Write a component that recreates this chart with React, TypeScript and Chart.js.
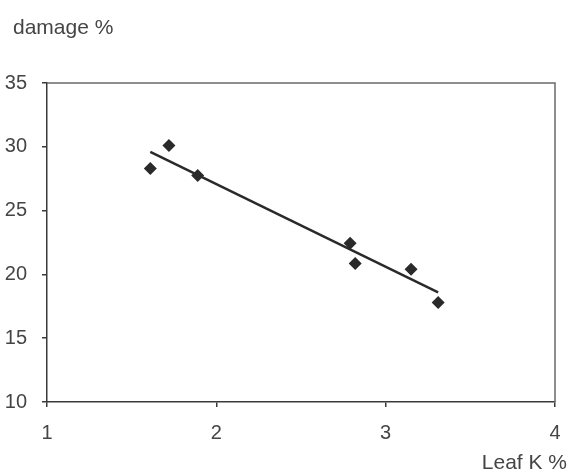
import React, { useEffect, useRef } from "react";
import { Chart, registerables } from "chart.js";

Chart.register(...registerables);

const leafK = [1.61, 1.72, 1.89, 2.79, 2.82, 3.15, 3.31];
const damage = [28.3, 30.1, 27.75, 22.45, 20.85, 20.4, 17.8];
const trendX = [1.61, 3.31];
const trendY = [29.6, 18.6];
const yTitle = "damage %";
const xTitle = "Leaf K %";

const FONT = "'Liberation Sans', Arial, sans-serif";
const TEXT = "#454545";
const INK = "#2a2a2a";

const framePlugin = {
  id: "frameAndTitles",
  afterDraw(chart: any) {
    const { ctx, chartArea } = chart;
    ctx.save();
    ctx.strokeStyle = "#6a6a6a";
    ctx.lineWidth = 1.5;
    ctx.beginPath();
    ctx.moveTo(chartArea.left, chartArea.top);
    ctx.lineTo(chartArea.right, chartArea.top);
    ctx.lineTo(chartArea.right, chartArea.bottom);
    ctx.stroke();
    ctx.fillStyle = TEXT;
    ctx.font = `21px ${FONT}`;
    ctx.textBaseline = "middle";
    ctx.textAlign = "left";
    ctx.fillText(yTitle, 13, 28);
    ctx.textAlign = "right";
    ctx.fillText(xTitle, 567, 463);
    ctx.restore();
  },
};

export default function App() {
  const ref = useRef<HTMLCanvasElement | null>(null);
  useEffect(() => {
    if (!ref.current) return;
    const chart = new Chart(ref.current, {
      type: "scatter",
      data: {
        datasets: [
          {
            label: "points",
            data: leafK.map((x, i) => ({ x, y: damage[i] })),
            pointStyle: "rectRot",
            pointRadius: 6.5,
            pointBackgroundColor: INK,
            pointBorderColor: INK,
            pointBorderWidth: 0,
            showLine: false,
          },
          {
            label: "trend",
            data: trendX.map((x, i) => ({ x, y: trendY[i] })),
            showLine: true,
            pointRadius: 0,
            borderColor: INK,
            borderWidth: 2.5,
          },
        ],
      },
      options: {
        responsive: false,
        animation: false,
        layout: { padding: { left: 0, top: 83, right: 14, bottom: 0 } },
        plugins: { legend: { display: false }, tooltip: { enabled: false } },
        scales: {
          x: {
            type: "linear",
            min: 1,
            max: 4,
            afterFit: (s: any) => {
              s.height = 71;
              s.paddingLeft = 0;
              s.paddingRight = 0;
            },
            ticks: {
              stepSize: 1,
              color: TEXT,
              font: { family: FONT, size: 20 },
              padding: 14,
              maxRotation: 0,
            },
            grid: { drawOnChartArea: false, drawTicks: true, tickLength: 5, color: "#3a3a3a", lineWidth: 1.5 },
            border: { color: "#3a3a3a", width: 1.5 },
          },
          y: {
            type: "linear",
            min: 10,
            max: 35,
            afterFit: (s: any) => {
              s.width = 47;
              s.paddingTop = 0;
              s.paddingBottom = 0;
            },
            ticks: {
              stepSize: 5,
              color: TEXT,
              font: { family: FONT, size: 20 },
              padding: 15,
            },
            grid: { drawOnChartArea: false, drawTicks: true, tickLength: 5, color: "#3a3a3a", lineWidth: 1.5 },
            border: { color: "#3a3a3a", width: 1.5 },
          },
        },
      },
      plugins: [framePlugin],
    } as any);
    return () => chart.destroy();
  }, []);
  return (
    <div style={{ position: "absolute", left: 0, top: 0, width: 569, height: 473, background: "#fff" }}>
      <canvas ref={ref} width={569} height={473} style={{ width: 569, height: 473, display: "block" }} />
    </div>
  );
}
